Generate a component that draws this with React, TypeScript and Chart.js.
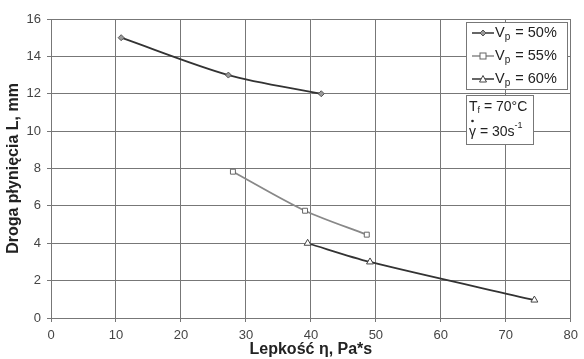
import React, { useEffect, useRef } from "react";
import { Chart, registerables } from "chart.js";

Chart.register(...registerables);

const xs50 = [10.8, 27.3, 41.6];
const ys50 = [15, 13, 12];
const xs55 = [28.0, 39.1, 48.6];
const ys55 = [7.83, 5.74, 4.46];
const xs60 = [39.5, 49.1, 74.4];
const ys60 = [4.0, 3.0, 0.96];

const seriesNames = ["50%", "55%", "60%"];
const xTitle = "Lepkość η, Pa*s";
const yTitle = "Droga płynięcia L, mm";

const FONT = "'Liberation Sans', Arial, sans-serif";

const toPts = (xs: number[], ys: number[]) => xs.map((x, i) => ({ x, y: ys[i] }));

function drawMarker(ctx: CanvasRenderingContext2D, kind: number, x: number, y: number) {
  ctx.save();
  ctx.lineWidth = 1;
  if (kind === 0) {
    ctx.fillStyle = "#999";
    ctx.strokeStyle = "#555";
    ctx.beginPath();
    ctx.moveTo(x, y - 3);
    ctx.lineTo(x + 3, y);
    ctx.lineTo(x, y + 3);
    ctx.lineTo(x - 3, y);
    ctx.closePath();
    ctx.fill();
    ctx.stroke();
  } else if (kind === 1) {
    ctx.fillStyle = "#fff";
    ctx.strokeStyle = "#666";
    ctx.fillRect(x - 3, y - 3, 6, 6);
    ctx.strokeRect(x - 3, y - 3, 6, 6);
  } else {
    ctx.fillStyle = "#fff";
    ctx.strokeStyle = "#444";
    ctx.beginPath();
    ctx.moveTo(x, y - 3.5);
    ctx.lineTo(x + 3.5, y + 3);
    ctx.lineTo(x - 3.5, y + 3);
    ctx.closePath();
    ctx.fill();
    ctx.stroke();
  }
  ctx.restore();
}

const lineColors = ["#333", "#888", "#333"];

const boxPlugin = {
  id: "boxes",
  afterDraw(chart: any) {
    const ctx: CanvasRenderingContext2D = chart.ctx;
    ctx.save();
    const lx = 466, ly = 22, lw = 101, lh = 67;
    ctx.fillStyle = "#fff";
    ctx.fillRect(lx, ly, lw, lh);
    ctx.strokeStyle = "#777";
    ctx.lineWidth = 1;
    ctx.strokeRect(lx + 0.5, ly + 0.5, lw, lh);
    const rows = [33, 56, 79];
    seriesNames.forEach((name, i) => {
      const y = rows[i];
      ctx.strokeStyle = lineColors[i];
      ctx.lineWidth = 1.5;
      ctx.beginPath();
      ctx.moveTo(472, y);
      ctx.lineTo(494, y);
      ctx.stroke();
      drawMarker(ctx, i, 483, y);
      ctx.fillStyle = "#222";
      ctx.textBaseline = "middle";
      ctx.textAlign = "left";
      ctx.font = `14.5px ${FONT}`;
      ctx.fillText("V", 495, y);
      let w = ctx.measureText("V").width;
      ctx.font = `10px ${FONT}`;
      ctx.fillText("p", 495 + w, y + 4);
      w += ctx.measureText("p").width;
      ctx.font = `14.5px ${FONT}`;
      ctx.fillText(" = " + name, 495 + w + 1, y);
    });
    const ax = 466, ay = 95, aw = 67, ah = 49;
    ctx.fillStyle = "#fff";
    ctx.fillRect(ax, ay, aw, ah);
    ctx.strokeStyle = "#777";
    ctx.lineWidth = 1;
    ctx.strokeRect(ax + 0.5, ay + 0.5, aw, ah);
    ctx.fillStyle = "#222";
    ctx.font = `14px ${FONT}`;
    ctx.fillText("T", 469, 107);
    let w = ctx.measureText("T").width;
    ctx.font = `9px ${FONT}`;
    ctx.fillText("f", 469 + w, 111);
    w += ctx.measureText("f").width;
    ctx.font = `14px ${FONT}`;
    ctx.fillText(" = 70°C", 469 + w, 107);
    ctx.fillText("γ", 469, 132);
    const gw = ctx.measureText("γ").width;
    ctx.beginPath();
    ctx.arc(469 + gw / 2, 121, 1.3, 0, Math.PI * 2);
    ctx.fill();
    ctx.fillText(" = 30s", 469 + gw, 132);
    const sw = ctx.measureText(" = 30s").width;
    ctx.font = `9px ${FONT}`;
    ctx.fillText("-1", 469 + gw + sw, 126);
    ctx.restore();
  },
};

export default function App() {
  const ref = useRef<HTMLCanvasElement>(null);
  useEffect(() => {
    document.body.style.margin = "0";
    const ctx = ref.current!.getContext("2d")!;
    const grid = {
      color: "#777",
      lineWidth: 1,
      tickLength: 4,
      tickColor: "#777",
    };
    const chart = new Chart(ctx, {
      type: "scatter",
      data: {
        datasets: [
          {
            label: "Vp = 50%",
            data: toPts(xs50, ys50),
            showLine: true,
            borderColor: lineColors[0],
            borderWidth: 1.8,
            tension: 0.3,
            pointStyle: "rectRot",
            pointRadius: 3,
            pointBackgroundColor: "#999",
            pointBorderColor: "#555",
            pointBorderWidth: 1,
          },
          {
            label: "Vp = 55%",
            data: toPts(xs55, ys55),
            showLine: true,
            borderColor: lineColors[1],
            borderWidth: 1.8,
            tension: 0.3,
            pointStyle: "rect",
            pointRadius: 3.5,
            pointBackgroundColor: "#fff",
            pointBorderColor: "#666",
            pointBorderWidth: 1,
          },
          {
            label: "Vp = 60%",
            data: toPts(xs60, ys60),
            showLine: true,
            borderColor: lineColors[2],
            borderWidth: 1.8,
            tension: 0.3,
            pointStyle: "triangle",
            pointRadius: 4,
            pointBackgroundColor: "#fff",
            pointBorderColor: "#444",
            pointBorderWidth: 1,
          },
        ],
      },
      options: {
        animation: false,
        responsive: false,
        maintainAspectRatio: false,
        layout: { padding: { top: 19, right: 10, left: 0, bottom: 0 } },
        plugins: { legend: { display: false }, tooltip: { enabled: false } },
        scales: {
          x: {
            type: "linear",
            min: 0,
            max: 80,
            ticks: { stepSize: 10, color: "#444", font: { family: FONT, size: 13 }, padding: 6 },
            grid,
            border: { color: "#777" },
            title: {
              display: true,
              text: xTitle,
              color: "#222",
              font: { family: FONT, size: 16, weight: "bold" },
              padding: { top: 0, bottom: 0 },
            },
            afterFit: (s: any) => {
              s.height = 41;
            },
          },
          y: {
            type: "linear",
            min: 0,
            max: 16,
            ticks: { stepSize: 2, color: "#444", font: { family: FONT, size: 13 }, padding: 6 },
            grid,
            border: { color: "#777" },
            title: {
              display: true,
              text: yTitle,
              color: "#222",
              font: { family: FONT, size: 16, weight: "bold" },
              padding: { top: 4, bottom: 0 },
            },
            afterFit: (s: any) => {
              s.width = 51;
            },
          },
        },
      },
      plugins: [boxPlugin],
    } as any);
    return () => chart.destroy();
  }, []);
  return (
    <div style={{ position: "fixed", left: 0, top: 0, width: 584, height: 359, background: "#fff" }}>
      <canvas ref={ref} width={584} height={359} style={{ width: 584, height: 359, display: "block" }} />
    </div>
  );
}
